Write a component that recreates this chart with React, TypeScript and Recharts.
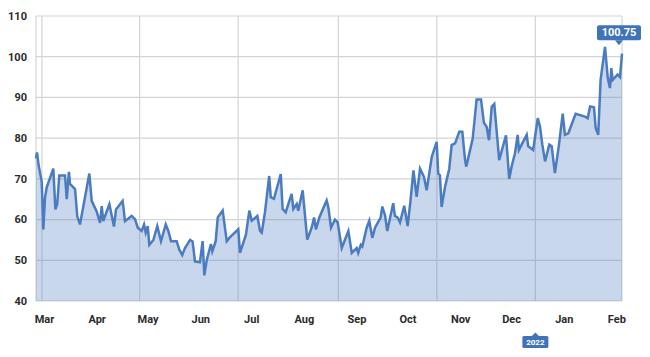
import { AreaChart, Area, XAxis, YAxis, CartesianGrid, ReferenceDot } from "recharts";

// day offsets from the first sample (around Mar 10) and the values
const days = [
  0, 0.6, 1.5, 3.4, 4.3, 5.3, 6.3, 10.2, 11.4, 12.5, 13.7, 17.1, 18.1, 19.4, 20, 23, 24.3, 25.9,
  31.4, 32.8, 35.7, 37.7, 38.7, 39.6, 43.2, 45.9, 47.1, 51, 52.4, 56.3, 58.3, 59.9, 62.2, 63.6,
  64.6, 65.8, 66.7, 69.1, 71.4, 73.6, 76.4, 77.9, 79.5, 82.8, 84.4, 86.1, 87.7, 90.7, 92.2, 93.6,
  96.5, 98.1, 99.1, 100.5, 103, 103.8, 105.8, 107, 109.9, 112.3, 113.8, 119.1, 120.1, 123.6,
  125.6, 127, 130.3, 131.9, 132.9, 134.8, 137.3, 138.2, 140.1, 144.1, 145.2, 147, 150.5, 151.5,
  153.5, 154.4, 157, 159.7, 162.3, 163.7, 164.8, 166.8, 171.1, 172.1, 173.7, 176, 177.6, 180,
  183.9, 185.9, 188.8, 189.7, 191.2, 192.1, 194.7, 196.2, 198, 199.6, 202.9, 203.9, 205.5, 206.8,
  210.3, 211.3, 212.9, 214.3, 216.8, 218.8, 220.5, 222.2, 224.1, 226.1, 228.4, 230, 233, 235.9,
  236.8, 237.8, 238.8, 240.8, 243.3, 244.7, 246.7, 249.2, 251, 252.6, 253.3, 255.5, 257.1, 259.4,
  262, 263.7, 265.3, 266.7, 268.3, 269.8, 271.6, 272.7, 276.7, 278.6, 280, 282, 283.6, 284.3,
  288.9, 289.8, 292.7, 295.4, 296.7, 298.1, 299.7, 302.2, 303.6, 305.5, 307.9, 310.1, 311.4,
  313.4, 317.7, 323.2, 324.8, 326.2, 328.5, 329.5, 331, 332.4, 335, 336.6, 337.9, 338.7, 339.5,
  342.4, 343.8, 345,
];

const values = [
  75, 76.5, 73.5, 69.2, 57.6, 65.4, 67.9, 72.5, 62.5, 63.8, 70.8, 70.8, 65, 71.7, 68.8, 67.5, 60.8, 58.8,
  71.3, 64.6, 62, 59.2, 63.3, 59.6, 63.8, 58.3, 62.5, 64.6, 59.6, 60.9, 60.1, 58, 57.2, 58.8,
  56.8, 58.4, 53.8, 55, 58.4, 54.7, 58.8, 57.2, 54.7, 54.7, 52.6, 51.3, 53, 55, 54.6, 49.7,
  49.5, 54.7, 46.3, 50, 54, 52.2, 54.7, 60.5, 62.2, 54.7, 55.5, 57.6, 51.8, 56.3,
  62.2, 59.7, 60.9, 57.2, 56.8, 61.8, 70.7, 65.5, 65.1, 71.2, 62.6, 61.8, 66.3, 62.6,
  63.8, 62.2, 67.2, 55.1, 58, 60.5, 57.6, 60.5, 64.7, 63, 58, 60, 59.3, 53,
  57.2, 51.8, 53, 51.8, 53.8, 53.4, 58, 59.7, 55.5, 58, 60.5, 63.2, 61, 57.2,
  64, 60.9, 60.5, 59.3, 63.4, 58.4, 64.7, 72.1, 65.6, 72.5, 70.5, 67.2, 75.4, 79.1,
  71.3, 70.9, 63.1, 68, 72.5, 78.3, 78.7, 81.6, 81.6, 74.6, 73, 77, 79.9, 89.5,
  89.5, 83.8, 82.8, 79.5, 87.7, 88.4, 79.9, 74.6, 80.7, 70, 73, 76.3, 80.8, 77.1,
  80.8, 78, 77.1, 84.9, 82.9, 78.4, 74.3, 78.4, 78, 71.4, 78.4, 86, 80.8,
  81.2, 86, 85.3, 84.9, 87.8, 87.6, 82.5, 80.8, 94.3, 102.4, 94.8, 92.3, 97.2, 94.3,
  95.6, 95, 100.75,
];

const monthLabels = ["Mar", "Apr", "May", "Jun", "Jul", "Aug", "Sep", "Oct", "Nov", "Dec", "Jan", "Feb"];
const monthTicks = [5, 36, 66, 97, 127, 158, 189, 219, 250, 280, 311, 342];
const gridDays = [3.5, 61, 119, 178, 236, 294];
const yTicks = [40, 50, 60, 70, 80, 90, 100, 110];
const yearMarkDay = 294;
const yearLabel = "2022";

const BLUE = "#4a7cbf";
const TAG = "#3f74b8";

const data = days.map((d, i) => ({ d, v: values[i] }));
const last = data[data.length - 1];

function ValueTag({ cx, cy }: { cx?: number; cy?: number }) {
  if (cx == null || cy == null) return null;
  const mid = cx - 3;
  const top = cy - 28.5;
  return (
    <g>
      <rect x={mid - 22} y={top} width={44} height={15} rx={2} fill={TAG} />
      <path d={`M${mid - 4},${top + 15} L${mid + 4},${top + 15} L${mid},${top + 20} Z`} fill={TAG} />
      <text
        x={mid}
        y={top + 11.3}
        textAnchor="middle"
        fill="#fff"
        fontSize={11}
        fontWeight="bold"
        fontFamily="Roboto"
      >
        {last.v.toFixed(2)}
      </text>
    </g>
  );
}

function YearTag({ cx, cy }: { cx?: number; cy?: number }) {
  if (cx == null || cy == null) return null;
  const top = cy + 35;
  return (
    <g>
      <path d={`M${cx - 3.5},${top} L${cx},${top - 3.5} L${cx + 3.5},${top} Z`} fill={TAG} />
      <rect x={cx - 13} y={top} width={26} height={12} rx={1.5} fill={TAG} />
      <text
        x={cx}
        y={top + 9}
        textAnchor="middle"
        fill="#fff"
        fontSize={8}
        fontWeight="bold"
        fontFamily="Roboto"
      >
        {yearLabel}
      </text>
    </g>
  );
}

export default function App() {
  const tickStyle = { fill: "#2b2b2b", fontSize: 11, fontWeight: "bold", fontFamily: "Roboto" };
  return (
    <div style={{ position: "absolute", left: 0, top: 0 }}>
      <AreaChart
        width={650}
        height={357}
        data={data}
        margin={{ top: 16, right: 28, bottom: 0, left: 0 }}
      >
        <XAxis xAxisId="grid" type="number" dataKey="d" domain={[0, 345]} ticks={gridDays} hide />
        <CartesianGrid xAxisId="grid" stroke="#d4d4d4" strokeWidth={1.2} />
        <XAxis
          type="number"
          dataKey="d"
          domain={[0, 345]}
          ticks={monthTicks}
          interval={0}
          tickFormatter={(v) => monthLabels[monthTicks.indexOf(v)] ?? ""}
          axisLine={false}
          tickLine={false}
          tickMargin={8}
          height={56}
          tick={tickStyle}
        />
        <YAxis
          domain={[40, 110]}
          ticks={yTicks}
          interval={0}
          width={36}
          axisLine={false}
          tickLine={false}
          tickMargin={3}
          tick={tickStyle}
        />
        <Area
          type="linear"
          dataKey="v"
          stroke={BLUE}
          strokeWidth={2.5}
          fill={BLUE}
          fillOpacity={0.3}
          dot={false}
          activeDot={false}
          isAnimationActive={false}
        />
        <ReferenceDot x={last.d} y={last.v} r={0} shape={(p: any) => <ValueTag cx={p.cx} cy={p.cy} />} />
        <ReferenceDot x={yearMarkDay} y={40} r={0} shape={(p: any) => <YearTag cx={p.cx} cy={p.cy} />} />
      </AreaChart>
    </div>
  );
}
